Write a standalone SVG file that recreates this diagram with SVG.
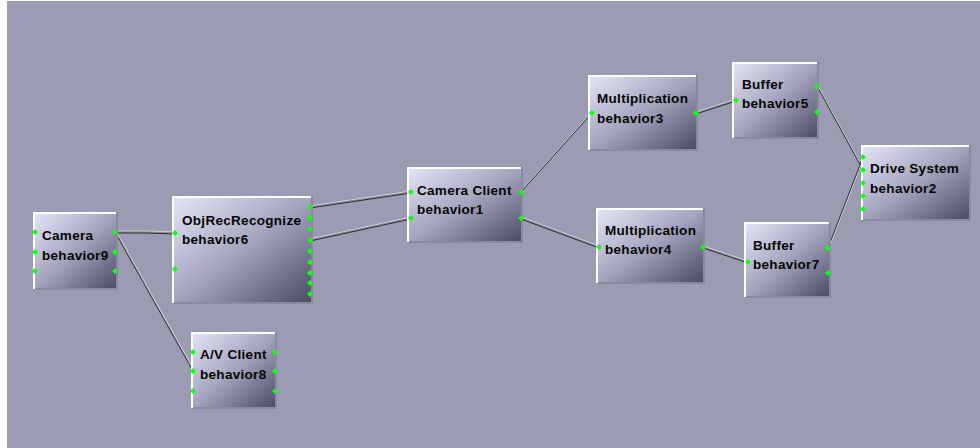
<svg xmlns="http://www.w3.org/2000/svg" xmlns:xlink="http://www.w3.org/1999/xlink" width="980" height="448" viewBox="0 0 980 448">
  <defs>
    <linearGradient id="boxFill" x1="0" y1="0" x2="1" y2="1">
      <stop offset="0" stop-color="#e6e6fa"/>
      <stop offset="0.5" stop-color="#a4a4be"/>
      <stop offset="1" stop-color="#4a4a64"/>
    </linearGradient>
    <path id="port" d="M0,-3 L3,0 L0,3 L-3,0 Z"/>
  </defs>
  <style>
    .box { fill: url(#boxFill); }
    .hi { stroke: #ffffff; stroke-width: 2; fill: none; }
    .lo { stroke: #8a8a9c; stroke-width: 2; fill: none; }
    .port { fill: #10ff10; }
    .label { font-family: "Liberation Sans", Arial, sans-serif; font-weight: bold; font-size: 13.5px; letter-spacing: 0.3px; fill: #050505; }
    .w1 { stroke: #d2d2d8; stroke-width: 1; fill: none; }
    .w2 { stroke: #8a8a90; stroke-width: 1; fill: none; }
    .w3 { stroke: #2e2e34; stroke-width: 1; fill: none; }
  </style>

  <!-- canvas -->
  <rect x="0" y="0" width="980" height="448" fill="#ffffff"/>
  <rect x="7" y="1" width="973" height="447" fill="#9b9cb3"/>

  <!-- connectors: each wire is a light/mid/dark triple stacked vertically -->
  <g id="connectors">
    <g id="w-b9-b6"><path class="w1" d="M115,231 L145,231 L175,232"/><path class="w2" d="M115,232 L145,232 L175,233"/><path class="w3" d="M115,233 L145,233 L175,234"/></g>
    <g id="w-b9-b8"><path class="w1" d="M116,231 L194,370"/><path class="w3" d="M115,232 L193,371"/></g>
    <g id="w-b6-b1a"><path class="w1" d="M310,206 L411,191"/><path class="w2" d="M310,207 L411,192"/><path class="w3" d="M310,208 L411,193"/></g>
    <g id="w-b6-b1b"><path class="w1" d="M310,239 L411,217"/><path class="w2" d="M310,240 L411,218"/><path class="w3" d="M310,241 L411,219"/></g>
    <g id="w-b1-b3"><path class="w1" d="M521,191 L592,112"/><path class="w3" d="M521,192 L592,113"/></g>
    <g id="w-b1-b4"><path class="w1" d="M521,217 L599,246"/><path class="w2" d="M521,218 L599,247"/><path class="w3" d="M521,219 L599,248"/></g>
    <g id="w-b3-b5"><path class="w1" d="M696,112 L736,99"/><path class="w2" d="M696,113 L736,100"/><path class="w3" d="M696,114 L736,101"/></g>
    <g id="w-b4-b7"><path class="w1" d="M703,246 L748,261"/><path class="w2" d="M703,247 L748,262"/><path class="w3" d="M703,248 L748,263"/></g>
    <g id="w-b5-b2"><path class="w1" d="M818,86 L864,170"/><path class="w3" d="M817,86 L863,170"/></g>
    <g id="w-b7-b2"><path class="w1" d="M829,248 L864,157"/><path class="w3" d="M828,248 L863,157"/></g>
  </g>

  <!-- Camera -->
  <g id="behavior9">
    <rect class="box" x="33" y="212" width="84" height="77"/>
    <path class="lo" d="M117,212 V289 H33"/>
    <path class="hi" d="M34,289 V213 H116"/>
    <text class="label" x="42" y="240">Camera</text>
    <text class="label" x="42" y="260">behavior9</text>
    <use class="port" href="#port" x="35" y="232"/>
    <use class="port" href="#port" x="35" y="252"/>
    <use class="port" href="#port" x="35" y="271"/>
    <use class="port" href="#port" x="115" y="232"/>
    <use class="port" href="#port" x="115" y="252"/>
    <use class="port" href="#port" x="115" y="271"/>
  </g>

  <!-- ObjRecRecognize -->
  <g id="behavior6">
    <rect class="box" x="172" y="196" width="140" height="107"/>
    <path class="lo" d="M312,196 V303 H172"/>
    <path class="hi" d="M173,303 V197 H311"/>
    <text class="label" x="182" y="225">ObjRecRecognize</text>
    <text class="label" x="182" y="244">behavior6</text>
    <use class="port" href="#port" x="175" y="233"/>
    <use class="port" href="#port" x="175" y="269"/>
    <use class="port" href="#port" x="310" y="207"/>
    <use class="port" href="#port" x="310" y="218"/>
    <use class="port" href="#port" x="310" y="229"/>
    <use class="port" href="#port" x="310" y="240"/>
    <use class="port" href="#port" x="310" y="251"/>
    <use class="port" href="#port" x="310" y="262"/>
    <use class="port" href="#port" x="310" y="273"/>
    <use class="port" href="#port" x="310" y="283"/>
    <use class="port" href="#port" x="310" y="294"/>
  </g>

  <!-- A/V Client -->
  <g id="behavior8">
    <rect class="box" x="191" y="332" width="85" height="76"/>
    <path class="lo" d="M276,332 V408 H191"/>
    <path class="hi" d="M192,408 V333 H275"/>
    <text class="label" x="200" y="359">A/V Client</text>
    <text class="label" x="200" y="379">behavior8</text>
    <use class="port" href="#port" x="193" y="352"/>
    <use class="port" href="#port" x="193" y="371"/>
    <use class="port" href="#port" x="193" y="391"/>
    <use class="port" href="#port" x="275" y="352"/>
    <use class="port" href="#port" x="275" y="371"/>
    <use class="port" href="#port" x="275" y="391"/>
  </g>

  <!-- Camera Client -->
  <g id="behavior1">
    <rect class="box" x="407" y="167" width="115" height="75"/>
    <path class="lo" d="M522,167 V242 H407"/>
    <path class="hi" d="M408,242 V168 H521"/>
    <text class="label" x="417" y="195">Camera Client</text>
    <text class="label" x="417" y="214">behavior1</text>
    <use class="port" href="#port" x="411" y="192"/>
    <use class="port" href="#port" x="411" y="218"/>
    <use class="port" href="#port" x="521" y="192"/>
    <use class="port" href="#port" x="521" y="218"/>
  </g>

  <!-- Multiplication (upper) -->
  <g id="behavior3">
    <rect class="box" x="588" y="75" width="109" height="75"/>
    <path class="lo" d="M697,75 V150 H588"/>
    <path class="hi" d="M589,150 V76 H696"/>
    <text class="label" x="597" y="103">Multiplication</text>
    <text class="label" x="597" y="123">behavior3</text>
    <use class="port" href="#port" x="592" y="113"/>
    <use class="port" href="#port" x="696" y="113"/>
  </g>

  <!-- Buffer (upper) -->
  <g id="behavior5">
    <rect class="box" x="732" y="62" width="86" height="76"/>
    <path class="lo" d="M818,62 V138 H732"/>
    <path class="hi" d="M733,138 V63 H817"/>
    <text class="label" x="742" y="89">Buffer</text>
    <text class="label" x="742" y="108">behavior5</text>
    <use class="port" href="#port" x="736" y="100"/>
    <use class="port" href="#port" x="817" y="86"/>
    <use class="port" href="#port" x="817" y="112"/>
  </g>

  <!-- Multiplication (lower) -->
  <g id="behavior4">
    <rect class="box" x="596" y="208" width="108" height="75"/>
    <path class="lo" d="M704,208 V283 H596"/>
    <path class="hi" d="M597,283 V209 H703"/>
    <text class="label" x="605" y="235">Multiplication</text>
    <text class="label" x="605" y="254">behavior4</text>
    <use class="port" href="#port" x="599" y="247"/>
    <use class="port" href="#port" x="703" y="247"/>
  </g>

  <!-- Buffer (lower) -->
  <g id="behavior7">
    <rect class="box" x="744" y="222" width="86" height="75"/>
    <path class="lo" d="M830,222 V297 H744"/>
    <path class="hi" d="M745,297 V223 H829"/>
    <text class="label" x="753" y="250">Buffer</text>
    <text class="label" x="753" y="269">behavior7</text>
    <use class="port" href="#port" x="748" y="262"/>
    <use class="port" href="#port" x="828" y="248"/>
    <use class="port" href="#port" x="828" y="273"/>
  </g>

  <!-- Drive System -->
  <g id="behavior2">
    <rect class="box" x="861" y="145" width="109" height="75"/>
    <path class="lo" d="M970,145 V220 H861"/>
    <path class="hi" d="M862,220 V146 H969"/>
    <text class="label" x="870" y="173">Drive System</text>
    <text class="label" x="870" y="193">behavior2</text>
    <use class="port" href="#port" x="863" y="157"/>
    <use class="port" href="#port" x="863" y="170"/>
    <use class="port" href="#port" x="863" y="183"/>
    <use class="port" href="#port" x="863" y="196"/>
    <use class="port" href="#port" x="863" y="209"/>
  </g>
</svg>
